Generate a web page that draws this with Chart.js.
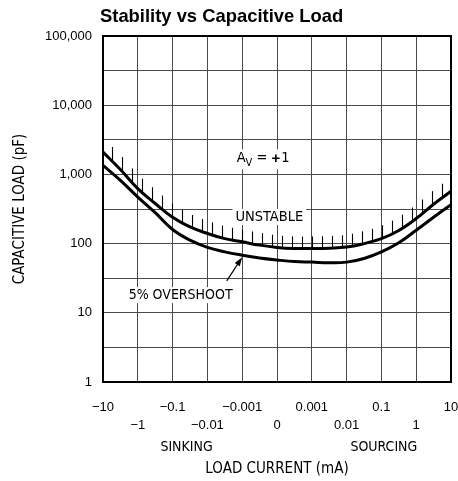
<!DOCTYPE html>
<html>
<head>
<meta charset="utf-8">
<script src="https://cdn.jsdelivr.net/npm/chart.js@4.4.0/dist/chart.umd.min.js"></script>
<style>
  html, body { margin: 0; padding: 0; background: #fff; }
</style>
</head>
<body>
<canvas id="stabilityChart" width="458" height="481"></canvas>
<script>
// x positions are grid steps of the split log axis (0 = -10 mA ... 10 = +10 mA)
const xTickLabels = ['−10', '−1', '−0.1', '−0.01', '−0.001', '0', '0.001', '0.01', '0.1', '1', '10'];
const loadSteps = [0, 0.5, 1, 1.5, 2, 2.5, 3, 3.5, 4, 4.5, 5, 5.5, 6, 6.5, 7, 7.5, 8, 8.5, 9, 9.5, 10];
const unstableLimit = [2100, 1175, 624, 380, 240, 174, 140, 118, 106, 95, 88, 85, 85, 86, 89, 100, 118, 155, 230, 370, 570];
const overshoot5 = [1350, 822, 470, 280, 160, 112, 88, 76, 68, 62, 58, 55, 54, 53, 54, 61, 76, 103, 156, 240, 365];
const yGridValues = [1, 3.162, 10, 31.62, 100, 316.2, 1000, 3162, 10000, 31623, 100000];
const yLabelValues = [1, 10, 100, 1000, 10000, 100000];

const plainFont = '"Liberation Sans", Arial, sans-serif';
const techFont = '"DejaVu Sans Condensed", "DejaVu Sans", sans-serif';

function bez(p0, p1, p2, p3, t) {
  const u = 1 - t;
  return u * u * u * p0 + 3 * u * u * t * p1 + 3 * u * t * t * p2 + t * t * t * p3;
}

// y pixel of a drawn (bezier) line at pixel x
function curveY(points, px) {
  for (let i = 0; i < points.length - 1; i++) {
    const a = points[i], b = points[i + 1];
    if (px < a.x || px > b.x) continue;
    if (a.cp2x === undefined) {
      return a.y + (b.y - a.y) * (px - a.x) / (b.x - a.x);
    }
    let lo = 0, hi = 1;
    for (let k = 0; k < 30; k++) {
      const m = (lo + hi) / 2;
      if (bez(a.x, a.cp2x, b.cp1x, b.x, m) < px) lo = m; else hi = m;
    }
    return bez(a.y, a.cp2y, b.cp1y, b.y, (lo + hi) / 2);
  }
  return points[points.length - 1].y;
}

const extrasPlugin = {
  id: 'extras',
  afterDatasetsDraw(chart) {
    const { ctx, chartArea, scales } = chart;
    const xs = scales.x, ys = scales.y;
    const upper = chart.getDatasetMeta(0).data;
    const lower = chart.getDatasetMeta(1).data;

    ctx.save();

    // hatching above the unstable limit
    ctx.strokeStyle = '#000';
    ctx.lineWidth = 1.1;
    for (let px = chartArea.left + 9; px <= chartArea.right - 8; px += 10) {
      const x = Math.round(px) + 0.5;
      const y = curveY(upper, x);
      const slope = Math.abs(curveY(upper, x + 3) - curveY(upper, x - 3)) / 6;
      const len = 11 + 2.5 * Math.min(slope, 1.2);
      ctx.beginPath();
      ctx.moveTo(x, y - 1);
      ctx.lineTo(x, y - 1 - len);
      ctx.stroke();
    }

    // plot frame
    ctx.lineWidth = 2;
    ctx.strokeRect(chartArea.left, chartArea.top, chartArea.right - chartArea.left, chartArea.bottom - chartArea.top);

    // text labels with white backing
    ctx.fillStyle = '#000';
    ctx.textBaseline = 'middle';
    ctx.font = '14.5px ' + techFont;
    const boxText = (txt, x, y) => {
      const w = ctx.measureText(txt).width;
      ctx.fillStyle = '#fff';
      ctx.fillRect(x - w / 2 - 3, y - 8, w + 6, 16);
      ctx.fillStyle = '#000';
      ctx.textAlign = 'center';
      ctx.fillText(txt, x, y);
    };
    boxText('UNSTABLE', xs.getPixelForValue(4.78), ys.getPixelForValue(243));
    ctx.font = '14px ' + techFont;
    boxText('5% OVERSHOOT', xs.getPixelForValue(2.23), ys.getPixelForValue(18));

    // A_V = +1
    const ax = xs.getPixelForValue(3.84);
    const ay = ys.getPixelForValue(1700);
    ctx.textAlign = 'left';
    ctx.font = '14.5px ' + techFont;
    const wA = ctx.measureText('A').width;
    ctx.font = '11px ' + techFont;
    const wV = ctx.measureText('V').width;
    ctx.fillStyle = '#fff';
    ctx.fillRect(ax - 3, ay - 9, wA + wV + 40, 20);
    ctx.fillStyle = '#000';
    ctx.font = '14.5px ' + techFont;
    ctx.fillText('A', ax, ay);
    ctx.font = '11px ' + techFont;
    ctx.fillText('V', ax + wA, ay + 5);
    ctx.font = '14.5px ' + techFont;
    ctx.fillText(' = ', ax + wA + wV, ay);
    const wEq = ctx.measureText(' = ').width;
    ctx.font = 'bold 15px ' + plainFont;
    ctx.fillText('+', ax + wA + wV + wEq, ay);
    const wPlus = ctx.measureText('+').width;
    ctx.font = '14.5px ' + techFont;
    ctx.fillText('1', ax + wA + wV + wEq + wPlus + 1, ay);

    // arrow to the 5% overshoot curve
    const tipX = xs.getPixelForValue(4);
    const tipY = curveY(lower, tipX) + 2;
    const tailX = xs.getPixelForValue(3.556);
    const tailY = ys.getPixelForValue(29);
    const ang = Math.atan2(tipY - tailY, tipX - tailX);
    ctx.lineWidth = 1.2;
    ctx.beginPath();
    ctx.moveTo(tailX, tailY);
    ctx.lineTo(tipX - 6 * Math.cos(ang), tipY - 6 * Math.sin(ang));
    ctx.stroke();
    ctx.beginPath();
    ctx.moveTo(tipX, tipY);
    ctx.lineTo(tipX - 9 * Math.cos(ang) + 3 * Math.sin(ang), tipY - 9 * Math.sin(ang) - 3 * Math.cos(ang));
    ctx.lineTo(tipX - 9 * Math.cos(ang) - 3 * Math.sin(ang), tipY - 9 * Math.sin(ang) + 3 * Math.cos(ang));
    ctx.closePath();
    ctx.fill();

    // sinking / sourcing under the x ticks
    ctx.font = '14px ' + techFont;
    ctx.textAlign = 'center';
    ctx.fillText('SINKING', xs.getPixelForValue(2.4), chartArea.bottom + 65);
    ctx.fillText('SOURCING', xs.getPixelForValue(8.07), chartArea.bottom + 65);

    // chart title
    ctx.font = 'bold 18.4px ' + plainFont;
    ctx.textAlign = 'left';
    ctx.fillText('Stability vs Capacitive Load', chartArea.left - 3, 17);

    ctx.restore();
  }
};

const ctx = document.getElementById('stabilityChart').getContext('2d');

new Chart(ctx, {
  type: 'line',
  data: {
    datasets: [
      {
        label: 'Unstable limit',
        data: loadSteps.map((x, i) => ({ x, y: unstableLimit[i] })),
        borderColor: '#000',
        borderWidth: 3,
        pointRadius: 0,
        tension: 0.4,
        fill: false,
      },
      {
        label: '5% overshoot',
        data: loadSteps.map((x, i) => ({ x, y: overshoot5[i] })),
        borderColor: '#000',
        borderWidth: 3,
        pointRadius: 0,
        tension: 0.4,
        fill: false,
      },
    ],
  },
  options: {
    responsive: false,
    animation: false,
    layout: { padding: { top: 36, right: 7, left: 0, bottom: 0 } },
    plugins: {
      legend: { display: false },
      tooltip: { enabled: false },
    },
    scales: {
      x: {
        type: 'linear',
        min: 0,
        max: 10,
        afterBuildTicks: (s) => { s.ticks = xTickLabels.map((_, i) => ({ value: i })); },
        afterFit: (s) => {
          s.height = 99;
          s.paddingLeft = 0;
          s.paddingRight = 0;
        },
        border: { display: false },
        grid: { color: '#4a4a4a', lineWidth: 1, drawTicks: false },
        ticks: {
          autoSkip: false,
          maxRotation: 0,
          padding: 16,
          color: '#000',
          font: { family: plainFont, size: 13, lineHeight: 1.385 },
          callback: (v) => {
            const i = Math.round(v);
            return i % 2 === 0 ? [xTickLabels[i], ''] : ['', xTickLabels[i]];
          },
        },
        title: {
          display: true,
          text: 'LOAD CURRENT (mA)',
          color: '#000',
          font: { family: techFont, size: 15, lineHeight: 1.2 },
          padding: { top: 0, bottom: 3 },
        },
      },
      y: {
        type: 'logarithmic',
        min: 1,
        max: 100000,
        afterBuildTicks: (s) => { s.ticks = yGridValues.map((v) => ({ value: v })); },
        afterFit: (s) => {
          s.width = 103;
          s.paddingTop = 0;
          s.paddingBottom = 0;
        },
        border: { display: false },
        grid: { color: '#4a4a4a', lineWidth: 1, drawTicks: false },
        ticks: {
          autoSkip: false,
          padding: 11,
          color: '#000',
          font: { family: plainFont, size: 13 },
          callback: (v) => (yLabelValues.includes(v) ? v.toLocaleString('en-US') : ''),
        },
        title: {
          display: true,
          text: 'CAPACITIVE LOAD (pF)',
          color: '#000',
          font: { family: techFont, size: 15, lineHeight: 1.2 },
          padding: { top: 11 },
        },
      },
    },
  },
  plugins: [extrasPlugin],
});
</script>
</body>
</html>
